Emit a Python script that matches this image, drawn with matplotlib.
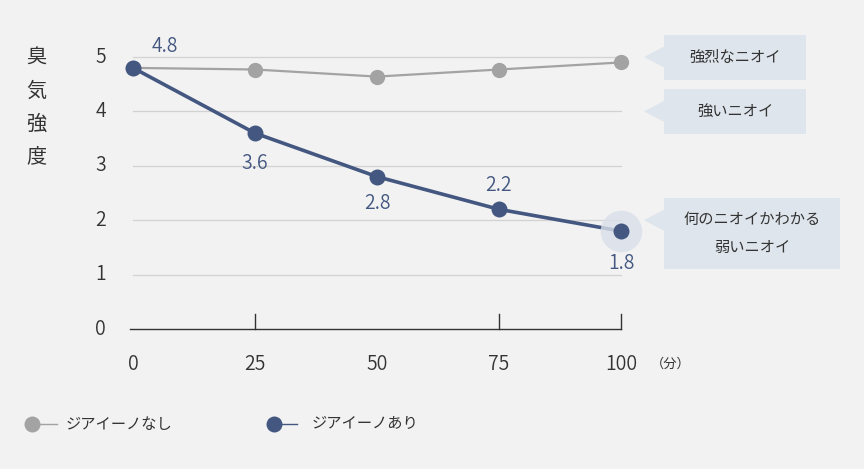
import matplotlib
matplotlib.use("Agg")
import matplotlib.pyplot as plt
from matplotlib.patches import Rectangle, Polygon
from matplotlib.lines import Line2D

plt.rcParams['font.family'] = ['Noto Sans CJK JP', 'DejaVu Sans']

minutes = [0, 25, 50, 75, 100]
without_device = [4.8, 4.77, 4.64, 4.77, 4.9]
with_device = [4.8, 3.6, 2.8, 2.2, 1.8]
y_ticks = [0, 1, 2, 3, 4, 5]
x_ticks = [0, 25, 50, 75, 100]
series_names = ["ジアイーノなし", "ジアイーノあり"]
y_title = "臭気強度"
x_unit = "（分）"
level_labels = ["強烈なニオイ", "強いニオイ", "何のニオイかわかる\n弱いニオイ"]
level_values = [5, 4, 2]

BG = "#f2f2f2"
GRAY = "#a3a3a3"
BLUE = "#435780"
BOX = "#dfe5ec"
TXT = "#333333"
NUMW = 350

W, H = 864, 469
fig = plt.figure(figsize=(W / 100, H / 100), dpi=100, facecolor=BG)
ax = fig.add_axes([133 / W, 1 - 329 / H, 488 / W, 272 / H])
ax.set_facecolor(BG)
ax.set_xlim(0, 100)
ax.set_ylim(0, 5)
for s in ax.spines.values():
    s.set_visible(False)

# grid lines
for yv in y_ticks[1:]:
    ax.plot([0, 100], [yv, yv], color="#d2d2d2", lw=0.9, zorder=1, clip_on=False)
ax.plot([-0.6, 100], [0, 0], color="#333333", lw=1.0, zorder=2, clip_on=False)
for xv in [25, 75, 100]:
    ax.plot([xv, xv], [0, 0.27], color="#333333", lw=1.0, zorder=2, clip_on=False)

ax.set_xticks([])
ax.set_yticks([])
for yv in y_ticks:
    ax.text(-5.5, yv, str(yv), ha="right", va="center", fontsize=14, color=TXT, fontweight=NUMW)
for xv in x_ticks:
    ax.text(xv, -0.65, str(xv), ha="center", va="center", fontsize=14, color=TXT, fontweight=NUMW)
ax.text(110.2, -0.65, x_unit, ha="center", va="center", fontsize=9.5, color=TXT)

# y title stacked
for i, ch in enumerate(y_title):
    fig.text(36 / W, 1 - (58 + i * 33) / H, ch, ha="center", va="center", fontsize=14.5, color=TXT)

ax.plot(minutes, without_device, '-o', color=GRAY, lw=1.6, ms=11, mec="none", zorder=4, clip_on=False)
ax.plot(minutes, with_device, '-', color=BLUE, lw=2.6, zorder=5, clip_on=False)
# halo on last blue point (semi-transparent, over the line)
ax.plot([minutes[-1]], [with_device[-1]], 'o', ms=30, color="#dae0ea", alpha=0.8, mec="none",
        zorder=6, clip_on=False)
ax.plot(minutes, with_device, 'o', color=BLUE, ms=11.5, mec="none", zorder=7, clip_on=False)

# data labels
offsets = [(6.6, 0.4), (0, -0.55), (0, -0.5), (0, 0.44), (0, -0.6)]
for xv, yv, (dx, dy) in zip(minutes, with_device, offsets):
    ax.text(xv + dx, yv + dy, f"{yv:.1f}", ha="center", va="center", fontsize=14, color=BLUE,
            zorder=8, fontweight=NUMW)

# level callouts (figure pixel coords)
tr = fig.transFigure
def px(x, y):
    return (x / W, 1 - y / H)

boxes = [(35, 80, 806), (89, 134, 806), (198, 269, 840)]
for (top, bot, right), lab, lv in zip(boxes, level_labels, level_values):
    tip_y = ax.transData.transform((0, lv))[1]
    tip_y_px = H - tip_y
    fig.patches.append(Rectangle(px(664, bot), (right - 664) / W, (bot - top) / H,
                                 transform=tr, facecolor=BOX, edgecolor="none"))
    fig.patches.append(Polygon([px(644, tip_y_px), px(665, tip_y_px - 11), px(665, tip_y_px + 11)],
                               closed=True, transform=tr, facecolor=BOX, edgecolor="none"))
    fig.text((664 + right) / 2 / W, 1 - (top + bot) / 2 / H, lab, ha="center", va="center",
             fontsize=11, color=TXT, linespacing=1.8)

# legend
for (cx, lx2, tx), col, name in zip([(32, 57, 66), (274, 297, 312)], [GRAY, BLUE], series_names):
    fig.lines.append(Line2D([cx / W, lx2 / W], [1 - 424 / H] * 2, transform=tr, color=col, lw=1))
    fig.lines.append(Line2D([cx / W], [1 - 424 / H], transform=tr, marker='o', ms=11.5, color=col, mec="none"))
    fig.text(tx / W, 1 - 424 / H, name, ha="left", va="center", fontsize=11, color=TXT)

fig.savefig("out.png", dpi=100, facecolor=BG)
